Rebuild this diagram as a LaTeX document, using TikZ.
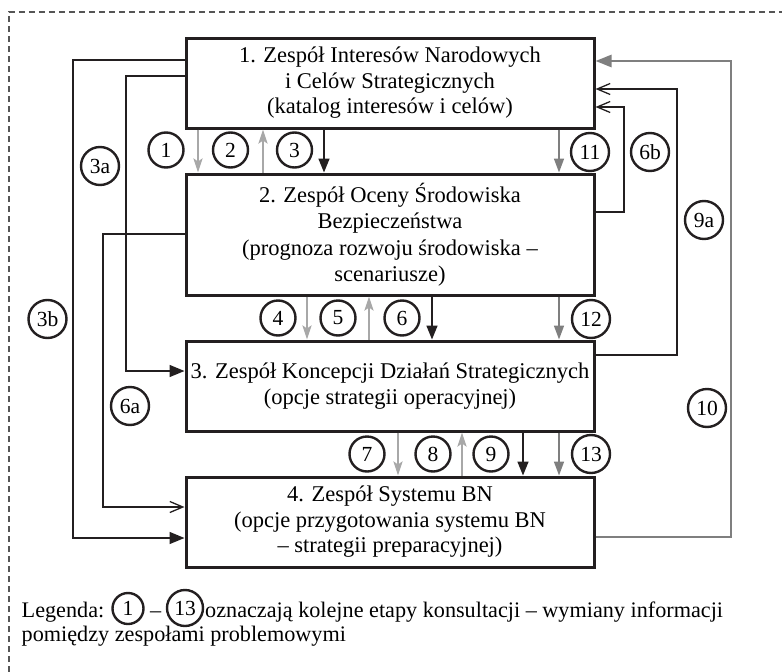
\documentclass[tikz,border=0pt]{standalone}
\usepackage{fontspec}
\setmainfont{Liberation Serif}
\usetikzlibrary{arrows.meta}
\definecolor{lg}{HTML}{A8A8A8}
\definecolor{dg}{HTML}{7F7F7F}
\definecolor{ink}{HTML}{231F20}
\definecolor{frame}{HTML}{555555}
\begin{document}
\begin{tikzpicture}[x=1pt,y=-1pt,
  box/.style={draw=ink, line width=3pt, minimum width=408pt, align=center, inner sep=0pt,
    font=\fontsize{22.5pt}{25.5pt}\selectfont},
  circ/.style={circle, draw=ink, line width=2.4pt, minimum size=35pt, inner sep=0pt,
    font=\fontsize{21.5pt}{21.5pt}\selectfont},
  circw/.style={circ, minimum size=38pt},
  garrow/.style={draw=lg, line width=2.4pt, -{Stealth[length=14pt,width=9pt,inset=3pt]}},
  karrow/.style={draw=ink, line width=1.6pt, -{Triangle[length=14pt,width=11pt]}},
  darrow/.style={draw=dg, line width=1.6pt, -{Triangle[length=14pt,width=10pt]}},
  conn/.style={draw=ink, line width=1.4pt},
  kconn/.style={conn, -{Triangle[length=15pt,width=12pt]}},
  oconn/.style={conn, -{Straight Barb[length=13pt,width=11pt,line width=1.3pt]}},
  tconn/.style={draw=dg, line width=2.6pt, -{Triangle[length=16pt,width=12pt]}},
  leg/.style={anchor=base west, inner sep=0pt, font=\fontsize{22.2pt}{22.2pt}\selectfont}
]
\useasboundingbox (0,0) rectangle (782,672);
\draw[frame, line width=1.3pt, dash pattern=on 6pt off 4pt] (9,672) -- (9,12) -- (782,12);

% boxes
\node[box, minimum height=90pt]  (b1) at (390,83)    {1. Zespół Interesów Narodowych\\i Celów Strategicznych\\(katalog interesów i celów)};
\node[box, minimum height=121pt, font=\fontsize{22.5pt}{26.5pt}\selectfont] (b2) at (390,234.5) {2. Zespół Oceny Środowiska\\Bezpieczeństwa\\(prognoza rozwoju środowiska –\\scenariusze)};
\node[box, minimum height=90pt]  (b3) at (390,386)   {3. Zespół Koncepcji Działań Strategicznych\\(opcje strategii operacyjnej)};
\node[box, minimum height=90pt]  (b4) at (390,522)   {4. Zespół Systemu BN\\(opcje przygotowania systemu BN\\– strategii preparacyjnej)};

% x positions of the vertical arrows
\coordinate (x1) at (198,0);  \coordinate (x2) at (263,0);  \coordinate (x3) at (324,0);
\coordinate (x4) at (307,0);  \coordinate (x5) at (369,0);  \coordinate (x6) at (432,0);
\coordinate (x7) at (398,0);  \coordinate (x8) at (462,0);  \coordinate (x9) at (523,0);
\coordinate (xr) at (559,0);

% vertical arrows between boxes
\draw[garrow] (b1.south -| x1) -- (b2.north -| x1);
\draw[garrow] (b2.north -| x2) -- (b1.south -| x2);
\draw[karrow] (b1.south -| x3) -- (b2.north -| x3);
\draw[darrow] (b1.south -| xr) -- (b2.north -| xr);

\draw[garrow] (b2.south -| x4) -- (b3.north -| x4);
\draw[garrow] (b3.north -| x5) -- (b2.south -| x5);
\draw[karrow] (b2.south -| x6) -- (b3.north -| x6);
\draw[darrow] (b2.south -| xr) -- (b3.north -| xr);

\draw[garrow] (b3.south -| x7) -- (b4.north -| x7);
\draw[garrow] (b4.north -| x8) -- (b3.south -| x8);
\draw[karrow] (b3.south -| x9) -- (b4.north -| x9);
\draw[darrow] (b3.south -| xr) -- (b4.north -| xr);

% routing corners
\coordinate (c3b) at (73,60);   \coordinate (e3b) at (73,538);
\coordinate (c3a) at (126,76);  \coordinate (e3a) at (126,371);
\coordinate (c6a) at (103,234); \coordinate (e6a) at (103,507);
\coordinate (c6b) at (624,212); \coordinate (e6b) at (624,107);
\coordinate (c9a) at (677,355); \coordinate (e9a) at (677,89);
\coordinate (c10) at (731,537); \coordinate (e10) at (731,61);

% side connectors
\draw[kconn] (b1.west |- c3b) -- (c3b) -- (e3b) -- (b4.west |- e3b);
\draw[kconn] (b1.west |- c3a) -- (c3a) -- (e3a) -- (b3.west |- e3a);
\draw[oconn] (b2.west |- c6a) -- (c6a) -- (e6a) -- (b4.west |- e6a);
\draw[oconn] (b2.east |- c6b) -- (c6b) -- (e6b) -- (b1.east |- e6b);
\draw[oconn] (b3.east |- c9a) -- (c9a) -- (e9a) -- (b1.east |- e9a);
\draw[tconn] (b4.east |- c10) -- (c10) -- (e10) -- (b1.east |- e10);

% step labels
\node[circ]  (n1)  at (166,150)   {1};
\node[circ]  (n2)  at (230.5,150) {2};
\node[circ]  (n3)  at (294.5,150) {3};
\node[circw] (n11) at (590,152)   {11};
\node[circw] (n6b) at (650,152)   {6b};
\node[circw] (n3a) at (100,166)   {3a};
\node[circw] (n9a) at (704,220)   {9a};
\node[circw] (n3b) at (47.5,319)  {3b};
\node[circ]  (n4)  at (278,318)   {4};
\node[circ]  (n5)  at (338,318)   {5};
\node[circ]  (n6)  at (402,318)   {6};
\node[circw] (n12) at (591,319)   {12};
\node[circw] (n6a) at (130,406)   {6a};
\node[circw] (n10) at (707,408)   {10};
\node[circ]  (n7)  at (367,454)   {7};
\node[circ]  (n8)  at (433,454)   {8};
\node[circ]  (n9)  at (491,454)   {9};
\node[circw] (n13) at (591,454)   {13};

% legend
\node[leg] (lg1) at (21.5,617) {Legenda:};
\node[circ, minimum size=31pt] (lc1) at (128,608.5) {1};
\node[leg] (ldash) at (150,617) {–};
\node[circ, minimum size=36pt] (lc13) at (185,608) {13};
\node[leg] (lg2) at (205,617) {oznaczają kolejne etapy konsultacji – wymiany informacji};
\node[leg] (lg3) at (21.5,641) {pomiędzy zespołami problemowymi};
\end{tikzpicture}
\end{document}
